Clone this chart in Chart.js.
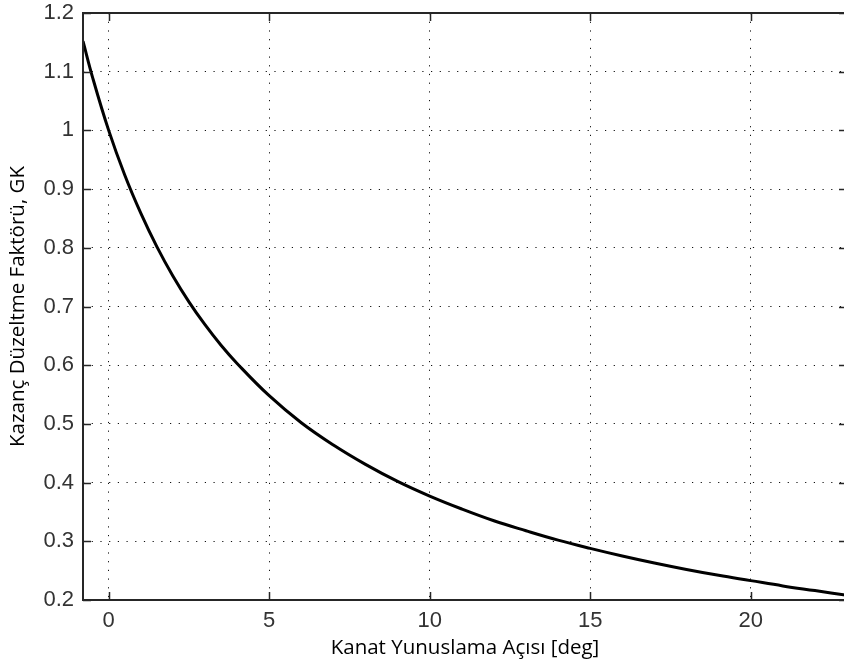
<!DOCTYPE html>
<html>
<head>
<meta charset="utf-8">
<script src="https://cdn.jsdelivr.net/npm/chart.js@4/dist/chart.umd.min.js"></script>
<style>
  html, body { margin: 0; padding: 0; background: #fff; overflow: hidden; }
  #wrap { position: absolute; left: 0; top: 0; width: 848px; height: 671px; }
</style>
</head>
<body>
<div id="wrap"><canvas id="c" width="848" height="671"></canvas></div>
<script>
// Data
const angleDeg = [-0.8, -0.5, 0, 0.5, 1, 1.5, 2, 2.5, 3, 3.5, 4, 5, 6, 7, 8, 9, 10, 11, 12, 13, 14, 15, 16, 17, 18, 19, 20, 21, 22, 23];
const gainFactor = [1.152, 1.090, 1.000, 0.924, 0.859, 0.802, 0.752, 0.708, 0.669, 0.634, 0.603, 0.548, 0.502, 0.464, 0.431, 0.402, 0.377, 0.355, 0.335, 0.318, 0.302, 0.288, 0.275, 0.263, 0.252, 0.242, 0.233, 0.224, 0.216, 0.208];
const xTicks = [0, 5, 10, 15, 20];
const yTicks = [0.2, 0.3, 0.4, 0.5, 0.6, 0.7, 0.8, 0.9, 1, 1.1, 1.2];
const xLabel = 'Kanat Yunuslama Açısı [deg]';
const yLabel = 'Kazanç Düzeltme Faktörü, GK';

const points = angleDeg.map((x, i) => ({ x: x, y: gainFactor[i] }));

const boxTicks = {
  id: 'boxTicks',
  afterDraw(chart) {
    const { ctx, chartArea: a, scales } = chart;
    ctx.save();
    ctx.strokeStyle = '#262626';
    ctx.lineWidth = 2;
    ctx.strokeRect(a.left, a.top, a.right - a.left, a.bottom - a.top);
    ctx.lineWidth = 1.5;
    const L = 8;
    scales.x.ticks.forEach(t => {
      const px = Math.round(scales.x.getPixelForValue(t.value)) + 0.5;
      ctx.beginPath();
      ctx.moveTo(px, a.bottom); ctx.lineTo(px, a.bottom - L);
      ctx.moveTo(px, a.top); ctx.lineTo(px, a.top + L);
      ctx.stroke();
    });
    scales.y.ticks.forEach(t => {
      const py = Math.round(scales.y.getPixelForValue(t.value)) + 0.5;
      ctx.beginPath();
      ctx.moveTo(a.left, py); ctx.lineTo(a.left + L, py);
      ctx.moveTo(a.right, py); ctx.lineTo(a.right - L, py);
      ctx.stroke();
    });
    ctx.restore();
  }
};

const bgPlugin = {
  id: 'bg',
  beforeDraw(chart) {
    const ctx = chart.ctx;
    ctx.save();
    ctx.fillStyle = '#fff';
    ctx.fillRect(0, 0, chart.width, chart.height);
    ctx.restore();
  }
};

const tickFont = { family: 'Liberation Sans', size: 22 };
const titleFont = { family: 'Open Sans', size: 20.5 };

new Chart(document.getElementById('c'), {
  type: 'line',
  data: {
    datasets: [{
      data: points,
      borderColor: '#000',
      borderWidth: 3,
      pointRadius: 0,
      fill: false,
      tension: 0.4
    }]
  },
  options: {
    responsive: false,
    animation: false,
    devicePixelRatio: 1,
    layout: { padding: { left: 0, right: 1, top: 13, bottom: 0 } },
    plugins: { legend: { display: false }, tooltip: { enabled: false } },
    scales: {
      x: {
        type: 'linear',
        min: -0.8,
        max: 23,
        afterBuildTicks: s => { s.ticks = xTicks.map(v => ({ value: v })); },
        afterFit: s => { s.height = 71; s.paddingLeft = 0; s.paddingRight = 0; },
        grid: { color: '#111', lineWidth: 1, drawTicks: false },
        border: { display: false, dash: [1.2, 7.5] },
        ticks: {
          padding: 8,
          color: '#333',
          font: tickFont,
          maxRotation: 0,
          callback: v => String(v)
        },
        title: {
          display: true,
          text: xLabel,
          color: '#000',
          font: titleFont,
          padding: { top: 0, bottom: 11 }
        }
      },
      y: {
        type: 'linear',
        min: 0.2,
        max: 1.2,
        afterBuildTicks: s => { s.ticks = yTicks.map(v => ({ value: v })); },
        afterFit: s => { s.width = 83; s.paddingTop = 0; s.paddingBottom = 0; },
        grid: { color: '#111', lineWidth: 1, drawTicks: false },
        border: { display: false, dash: [1.2, 7.5] },
        ticks: {
          padding: 9,
          color: '#333',
          font: tickFont,
          callback: v => String(v)
        },
        title: {
          display: true,
          text: yLabel,
          color: '#000',
          font: titleFont,
          padding: { top: 6, bottom: 0 }
        }
      }
    }
  },
  plugins: [bgPlugin, boxTicks]
});
</script>
</body>
</html>
